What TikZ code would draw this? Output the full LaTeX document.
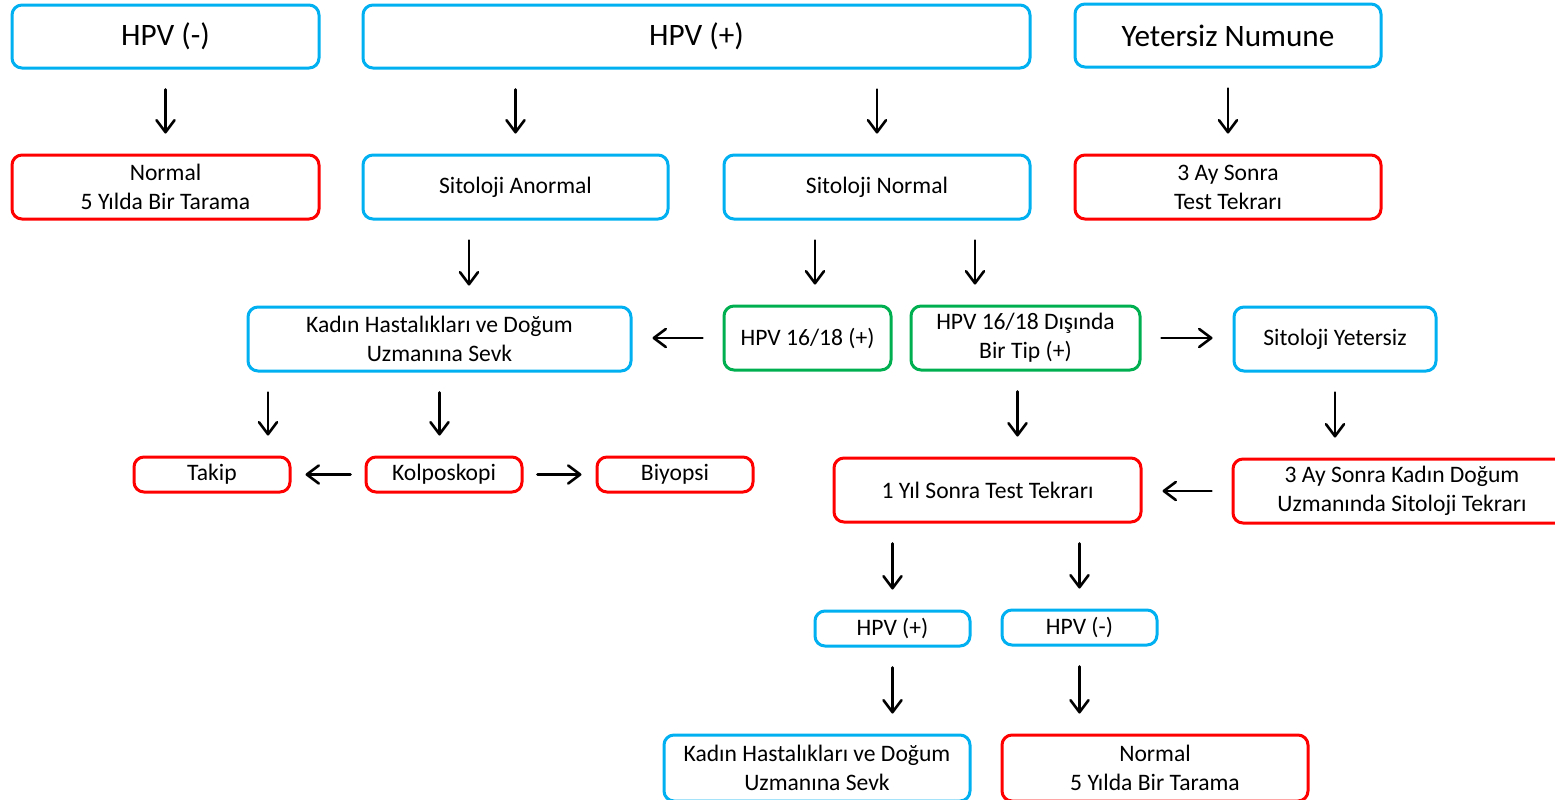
\documentclass[tikz,border=0pt]{standalone}
\usepackage{fontspec}
\setmainfont{Carlito}
\usepackage{xcolor}
\usetikzlibrary{arrows.meta}
\definecolor{boxblue}{RGB}{0,176,240}
\definecolor{boxred}{RGB}{255,0,0}
\definecolor{boxgreen}{RGB}{0,176,80}
\begin{document}
\begin{tikzpicture}[x=0.5pt, y=-0.5pt,
  box/.style={draw, rectangle, rounded corners=5pt, line width=1.5pt, align=center,
    inner sep=0pt, font=\fontsize{11.8}{14.5}\selectfont},
  bigbox/.style={box, font=\fontsize{15.6}{18}\selectfont},
  arr/.style={-{Straight Barb[length=6pt,width=9pt,round]}, line width=1.3pt,
    line cap=round, shorten <=10pt, shorten >=10pt}]
\useasboundingbox (0,0) rectangle (1555,799);

\node[bigbox, draw=boxblue, minimum width=153.5pt, minimum height=31.5pt] (hpvneg) at (165.5,36.5) {HPV (-)};
\node[bigbox, draw=boxblue, minimum width=333.5pt, minimum height=31.5pt] (hpvpos) at (696.5,36.5) {HPV (+)};
\node[bigbox, draw=boxblue, minimum width=153pt, minimum height=31.5pt] (yetersiz) at (1228,35.5) {Yetersiz Numune};

\node[box, draw=boxred, minimum width=153.5pt, minimum height=32pt] (normal) at (165.5,187) {Normal\\5 Yılda Bir Tarama};
\node[box, draw=boxblue, minimum width=152.5pt, minimum height=32pt] (sitanormal) at (515.5,187) {Sitoloji Anormal};
\node[box, draw=boxblue, minimum width=153pt, minimum height=32pt] (sitnormal) at (877,187) {Sitoloji Normal};
\node[box, draw=boxred, minimum width=153pt, minimum height=32pt] (aytekrar) at (1228,187) {3 Ay Sonra\\Test Tekrarı};

\node[box, draw=boxblue, minimum width=191.5pt, minimum height=32pt] (sevk) at (439.5,339) {Kadın Hastalıkları ve Doğum\\Uzmanına Sevk};
\node[box, draw=boxgreen, minimum width=83.5pt, minimum height=32pt] (hpvtip) at (807.5,338) {HPV 16/18 (+)};
\node[box, draw=boxgreen, minimum width=114.5pt, minimum height=32pt] (digertip) at (1025.5,338) {HPV 16/18 Dışında\\Bir Tip (+)};
\node[box, draw=boxblue, minimum width=101pt, minimum height=32pt] (sityetersiz) at (1335,339) {Sitoloji Yetersiz};

\node[box, draw=boxred, minimum width=78pt, minimum height=17.5pt] (takip) at (212,474.5) {Takip};
\node[box, draw=boxred, minimum width=78pt, minimum height=17.5pt] (kolpo) at (444,474.5) {Kolposkopi};
\node[box, draw=boxred, minimum width=78pt, minimum height=17.5pt] (biyopsi) at (675,474.5) {Biyopsi};
\node[box, draw=boxred, minimum width=153.5pt, minimum height=32pt] (yiltekrar) at (987.5,490) {1 Yıl Sonra Test Tekrarı};
\node[box, draw=boxred, minimum width=169pt, minimum height=32pt] (sittekrar) at (1402,491) {3 Ay Sonra Kadın Doğum\\Uzmanında Sitoloji Tekrarı};

\node[box, draw=boxblue, minimum width=77.5pt, minimum height=17.5pt] (sonpos) at (892.5,628.5) {HPV (+)};
\node[box, draw=boxblue, minimum width=77.5pt, minimum height=17.5pt] (sonneg) at (1079.5,627.5) {HPV (-)};
\node[box, draw=boxblue, minimum width=153pt, minimum height=33pt] (sonsevk) at (817,768) {Kadın Hastalıkları ve Doğum\\Uzmanına Sevk};
\node[box, draw=boxred, minimum width=153pt, minimum height=33pt] (sonnormal) at (1155,768) {Normal\\5 Yılda Bir Tarama};

\draw[arr] (hpvneg.south) -- (normal.north);
\draw[arr] (hpvpos.south -| sitanormal.north) -- (sitanormal.north);
\draw[arr] (hpvpos.south -| sitnormal.north) -- (sitnormal.north);
\draw[arr] (yetersiz.south) -- (aytekrar.north);

\draw[arr] ([xshift=-23.25pt]sitanormal.south) -- ([xshift=-23.25pt]sitanormal.south |- sevk.north);
\draw[arr] ([xshift=-31pt]sitnormal.south) -- ([xshift=-31pt]sitnormal.south |- hpvtip.north);
\draw[arr] ([xshift=49pt]sitnormal.south) -- ([xshift=49pt]sitnormal.south |- digertip.north);

\draw[arr] (hpvtip.west) -- (hpvtip.west -| sevk.east);
\draw[arr] (digertip.east) -- (digertip.east -| sityetersiz.west);

\draw[arr] ([xshift=-85.75pt]sevk.south) -- ([xshift=-85.75pt]sevk.south |- takip.north);
\draw[arr] (sevk.south) -- (sevk.south |- kolpo.north);
\draw[arr, shorten <=7pt, shorten >=7pt] (kolpo.west) -- (takip.east);
\draw[arr, shorten <=7pt, shorten >=7pt] (kolpo.east) -- (biyopsi.west);

\draw[arr] ([xshift=-4pt]digertip.south) -- ([xshift=-4pt]digertip.south |- yiltekrar.north);
\draw[arr] (sityetersiz.south) -- (sityetersiz.south |- sittekrar.north);
\draw[arr] (sittekrar.west) -- (sittekrar.west -| yiltekrar.east);

\draw[arr] (yiltekrar.south -| sonpos.north) -- (sonpos.north);
\draw[arr] (yiltekrar.south -| sonneg.north) -- (sonneg.north);
\draw[arr] (sonpos.south) -- (sonpos.south |- sonsevk.north);
\draw[arr] (sonneg.south) -- (sonneg.south |- sonnormal.north);
\end{tikzpicture}
\end{document}
